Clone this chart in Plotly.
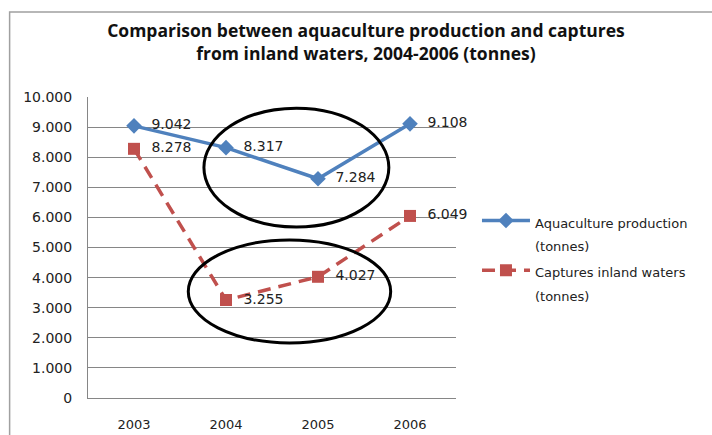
import plotly.graph_objects as go

years = ["2003", "2004", "2005", "2006"]
aquaculture = [9042, 8317, 7284, 9108]
captures = [8278, 3255, 4027, 6049]
y_ticks = [0, 1000, 2000, 3000, 4000, 5000, 6000, 7000, 8000, 9000, 10000]

FONT = "DejaVu Sans"
TITLE_FONT = "Open Sans"


def fmt(v):
    return f"{v:,}".replace(",", ".")


def legend_name(a, b):
    # big legend font gives the wide line spacing, inner span sets the glyph size
    return f"<span style='font-size:13px'>{a}</span><br><span style='font-size:13px'>{b}</span>"


fig = go.Figure()

fig.add_trace(go.Scatter(
    x=years, y=aquaculture,
    mode="lines+markers+text",
    name=legend_name("Aquaculture production", "(tonnes)"),
    line=dict(color="#4F81BD", width=3.5),
    marker=dict(symbol="diamond", size=12, color="#4F81BD"),
    text=["  " + fmt(v) for v in aquaculture],
    textposition="middle right",
    textfont=dict(size=14, color="#222222", family=FONT),
    cliponaxis=False,
))

fig.add_trace(go.Scatter(
    x=years, y=captures,
    mode="lines+markers+text",
    name=legend_name("Captures inland waters", "(tonnes)"),
    line=dict(color="#C0504D", width=3.5, dash="13px,8px"),
    marker=dict(symbol="square", size=12, color="#C0504D"),
    text=["  " + fmt(v) for v in captures],
    textposition="middle right",
    textfont=dict(size=14, color="#222222", family=FONT),
    cliponaxis=False,
))

# hand-drawn ellipses around 2004-2005
fig.add_shape(type="circle", xref="x", yref="y", x0=0.76, x1=2.77, y0=5680, y1=9630,
              line=dict(color="black", width=3))
fig.add_shape(type="circle", xref="x", yref="y", x0=0.59, x1=2.79, y0=1830, y1=5250,
              line=dict(color="black", width=3))

# chart area border
fig.add_shape(type="rect", xref="paper", yref="paper", x0=-0.213, x1=3, y0=-3, y1=1.282,
              line=dict(color="#A0A0A0", width=1.5), layer="below")

fig.update_layout(
    width=712, height=435,
    margin=dict(l=88, r=256, t=97, b=37, autoexpand=False),
    paper_bgcolor="white", plot_bgcolor="white",
    separators=",.",
    font=dict(family=FONT, size=14, color="#222222"),
    title=dict(
        text="<b>Comparison between aquaculture production and captures<br>from inland waters, 2004-2006 (tonnes)</b>",
        x=0.514, xref="container", xanchor="center",
        y=1 - 37 / 435, yref="container", yanchor="middle",
        font=dict(size=17.5, family=TITLE_FONT, color="#111111"),
        automargin=False,
    ),
    xaxis=dict(
        type="category", range=[-0.5, 3.5], automargin=False,
        showgrid=False, showline=True, linecolor="#868686", linewidth=1,
        ticks="", tickfont=dict(size=13), ticklabelstandoff=14,
    ),
    yaxis=dict(
        range=[0, 10000], tickvals=y_ticks, tickformat=",d", automargin=False,
        showgrid=True, gridcolor="#868686", gridwidth=1,
        showline=True, linecolor="#868686", linewidth=1,
        zeroline=False, ticks="", tickfont=dict(size=14), ticklabelstandoff=12,
    ),
    legend=dict(
        x=1.057, y=0.65, xanchor="left", yanchor="top",
        font=dict(size=18, family=FONT), tracegroupgap=4,
        itemwidth=48, valign="top",
        bgcolor="rgba(0,0,0,0)",
    ),
    showlegend=True,
)

fig.write_html("out.html", config={"displayModeBar": False},
               post_script="document.body.style.margin='0';")
